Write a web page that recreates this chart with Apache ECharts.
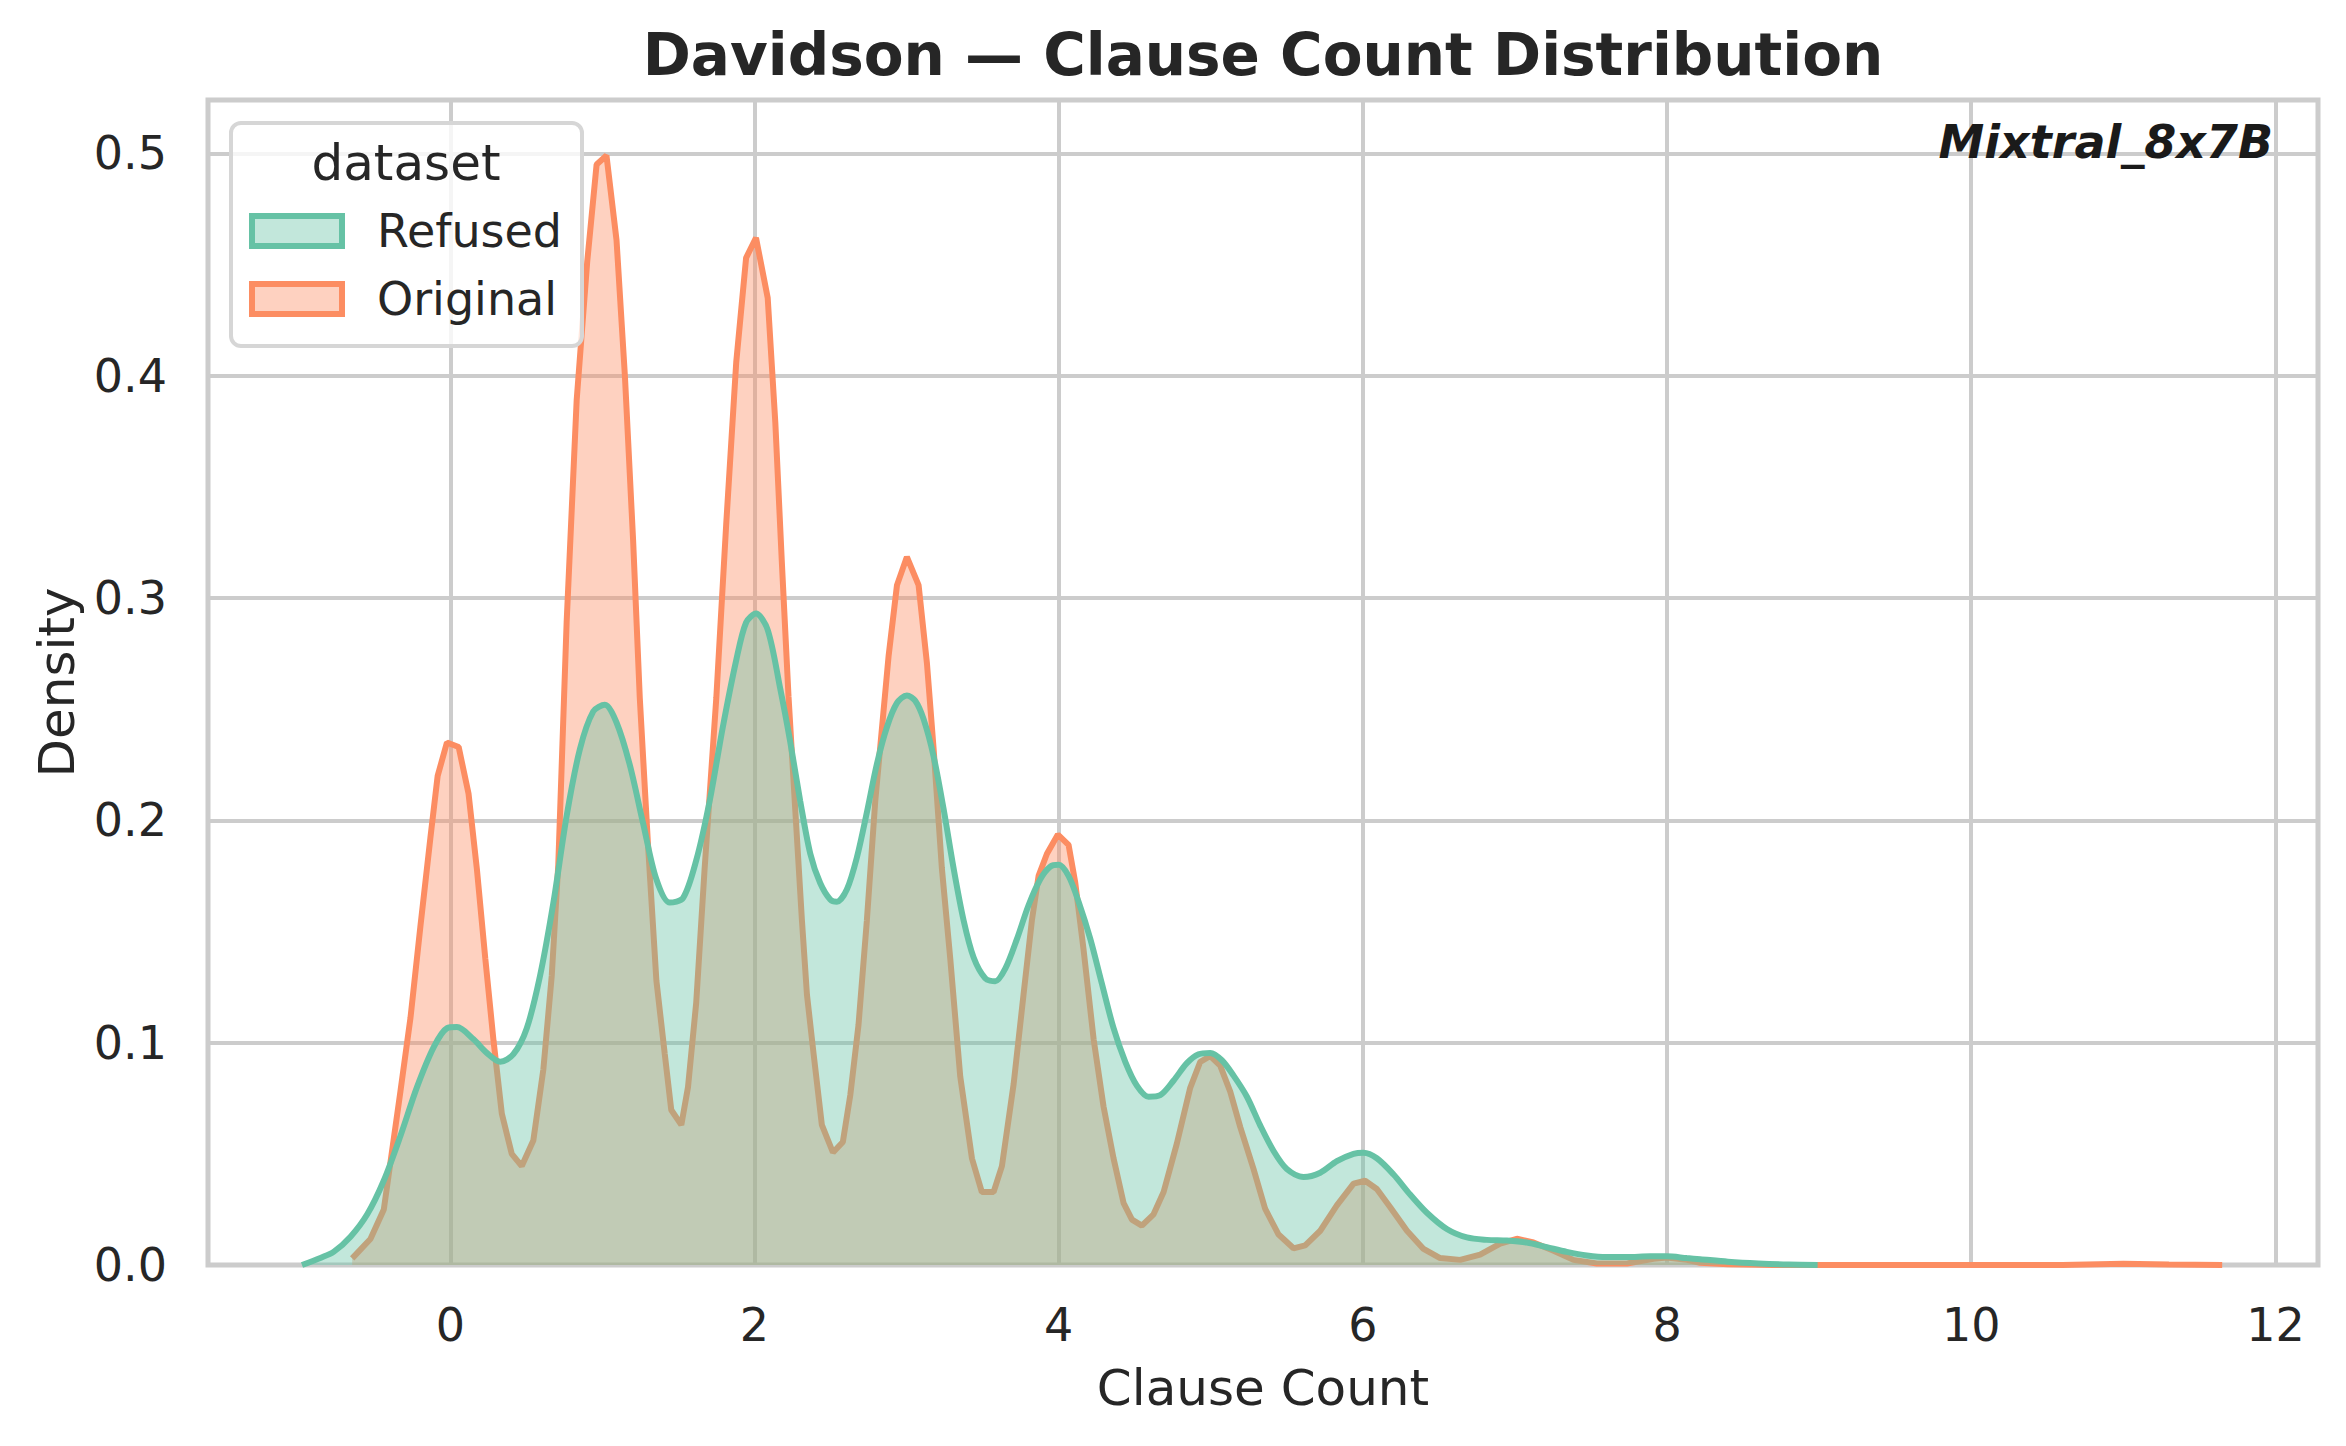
<!DOCTYPE html>
<html><head><meta charset="utf-8">
<script src="https://cdn.jsdelivr.net/npm/echarts@6/dist/echarts.min.js"></script>
<style>html,body{margin:0;padding:0;background:#fff}#c{width:2346px;height:1446px}</style>
</head><body><div id="c"></div>
<script>
const chartTitle = 'Davidson — Clause Count Distribution';
const modelLabel = 'Mixtral_8x7B';
const xAxisName = 'Clause Count';
const yAxisName = 'Density';
const legendTitle = 'dataset';
const seriesNames = ['Refused', 'Original'];
const xTicks = [0, 2, 4, 6, 8, 10, 12];
const yTicks = [0, 0.1, 0.2, 0.3, 0.4, 0.5];

const refusedDensity = [
  [-0.975,0.0],[-0.85,0.0033],[-0.765,0.006],[-0.656,0.0127],[-0.546,0.0228],[-0.437,0.038],
  [-0.328,0.058],[-0.219,0.080],[-0.109,0.098],[-0.022,0.1065],[0.044,0.107],[0.153,0.1015],
  [0.240,0.0954],[0.328,0.0914],[0.415,0.0948],[0.503,0.1065],[0.590,0.130],[0.678,0.163],
  [0.765,0.202],[0.852,0.232],[0.94,0.249],[1.016,0.252],[1.093,0.244],[1.18,0.225],
  [1.268,0.1986],[1.355,0.1735],[1.443,0.163],[1.53,0.165],[1.617,0.182],[1.705,0.2086],
  [1.792,0.242],[1.88,0.272],[1.945,0.289],[2.01,0.293],[2.087,0.2857],[2.17,0.259],
  [2.235,0.2354],[2.301,0.2086],[2.367,0.185],[2.432,0.1718],[2.498,0.1644],[2.542,0.1634],
  [2.608,0.169],[2.674,0.1835],[2.739,0.2036],[2.805,0.2254],[2.871,0.242],[2.937,0.2528],
  [3.002,0.2562],[3.057,0.2538],[3.112,0.2455],[3.178,0.2287],[3.243,0.2053],[3.309,0.1785],
  [3.375,0.155],[3.441,0.1383],[3.517,0.129],[3.583,0.1276],[3.649,0.1333],[3.726,0.1467],
  [3.802,0.1618],[3.879,0.1735],[3.945,0.1792],[4.0,0.18],[4.065,0.175],[4.131,0.1634],
  [4.208,0.1467],[4.284,0.1266],[4.361,0.1065],[4.438,0.0914],[4.514,0.0807],[4.591,0.0757],
  [4.668,0.0764],[4.756,0.083],[4.843,0.0908],[4.92,0.0948],[4.997,0.0954],[5.073,0.0921],
  [5.15,0.0852],[5.237,0.0758],[5.325,0.0628],[5.413,0.0513],[5.5,0.0432],[5.61,0.0396],
  [5.72,0.0415],[5.829,0.0467],[5.939,0.050],[6.004,0.0505],[6.092,0.048],[6.202,0.0407],
  [6.311,0.0317],[6.421,0.0235],[6.552,0.0162],[6.684,0.0124],[6.815,0.0113],[6.947,0.011],
  [7.078,0.0101],[7.21,0.008],[7.341,0.0059],[7.473,0.0043],[7.604,0.0036],[7.736,0.0036],
  [7.889,0.0039],[7.999,0.0039],[8.13,0.0031],[8.218,0.0026],[8.4,0.0015],[8.6,0.0007],
  [8.8,0.0002],[8.99,0.0]
];

const originalDensity = [
  [-0.645,0.003],[-0.525,0.0117],[-0.437,0.025],[-0.328,0.078],[-0.262,0.111],[-0.197,0.152],
  [-0.131,0.192],[-0.083,0.220],[-0.022,0.235],[0.055,0.233],[0.120,0.212],[0.175,0.178],
  [0.230,0.138],[0.284,0.101],[0.339,0.068],[0.404,0.050],[0.470,0.0445],[0.546,0.056],
  [0.612,0.088],[0.667,0.13],[0.71,0.18],[0.765,0.289],[0.831,0.389],[0.90,0.451],
  [0.962,0.495],[1.027,0.499],[1.093,0.461],[1.148,0.40],[1.202,0.326],[1.246,0.255],
  [1.30,0.189],[1.355,0.128],[1.41,0.095],[1.453,0.0697],[1.519,0.063],[1.563,0.080],
  [1.617,0.118],[1.672,0.178],[1.749,0.255],[1.814,0.333],[1.88,0.406],[1.945,0.453],
  [2.01,0.462],[2.087,0.435],[2.137,0.379],[2.18,0.316],[2.224,0.2555],[2.268,0.205],
  [2.312,0.155],[2.345,0.1216],[2.389,0.0948],[2.443,0.063],[2.516,0.0506],[2.581,0.0553],
  [2.63,0.0764],[2.684,0.108],[2.739,0.155],[2.794,0.2086],[2.882,0.274],[2.937,0.3058],
  [3.002,0.3185],[3.079,0.3058],[3.134,0.2706],[3.178,0.232],[3.232,0.1785],[3.287,0.138],
  [3.353,0.0847],[3.43,0.0479],[3.495,0.0328],[3.572,0.0328],[3.627,0.0445],[3.704,0.0814],
  [3.769,0.1216],[3.824,0.155],[3.868,0.175],[3.923,0.185],[3.995,0.1936],[4.065,0.189],
  [4.109,0.172],[4.164,0.1417],[4.23,0.1015],[4.295,0.0713],[4.361,0.0479],[4.427,0.0278],
  [4.482,0.0204],[4.547,0.0177],[4.624,0.0228],[4.69,0.0328],[4.777,0.0546],[4.865,0.0797],
  [4.931,0.0914],[4.997,0.094],[5.062,0.0897],[5.128,0.078],[5.194,0.062],[5.281,0.0432],
  [5.358,0.0252],[5.446,0.0137],[5.544,0.0075],[5.621,0.0088],[5.72,0.0154],[5.829,0.0268],
  [5.939,0.0366],[6.015,0.0379],[6.092,0.0342],[6.18,0.026],[6.29,0.0154],[6.399,0.0072],
  [6.508,0.0031],[6.64,0.0023],[6.771,0.0047],[6.903,0.0096],[7.012,0.0118],[7.122,0.0101],
  [7.254,0.0064],[7.385,0.0023],[7.539,0.0007],[7.736,0.0007],[7.911,0.0028],[7.999,0.0034],
  [8.13,0.0023],[8.218,0.001],[8.4,0.0003],[8.7,0.0],[10.6,0.0],[11.0,0.0006],[11.3,0.0002],
  [11.65,0.0]
];

const colors = { Refused: '#66c2a5', Original: '#fc8d62' };
const fills = { Refused: 'rgba(102,194,165,0.4)', Original: 'rgba(252,141,98,0.4)' };
const FONT = 'DejaVu Sans';
const TXT = '#262626';

const chart = echarts.init(document.getElementById('c'), null, { renderer: 'svg' });
chart.setOption({
  backgroundColor: '#ffffff',
  animation: false,
  grid: { left: 208, top: 100, width: 2110, height: 1165, show: true,
          borderColor: '#cccccc', borderWidth: 5, backgroundColor: 'transparent' },
  xAxis: {
    type: 'value', min: -1.593, max: 12.28,
    name: xAxisName, nameLocation: 'middle', nameGap: 98,
    nameTextStyle: { fontFamily: FONT, fontSize: 50, color: TXT },
    axisLine: { show: false }, axisTick: { show: false, customValues: xTicks },
    axisLabel: { customValues: xTicks, fontFamily: FONT, fontSize: 46, color: TXT, margin: 37 },
    splitLine: { show: true, lineStyle: { color: '#cccccc', width: 4 } }
  },
  yAxis: {
    type: 'value', min: 0, max: 0.524,
    name: yAxisName, nameLocation: 'middle', nameGap: 126,
    nameTextStyle: { fontFamily: FONT, fontSize: 50, color: TXT },
    axisLine: { show: false }, axisTick: { show: false, customValues: yTicks },
    axisLabel: { customValues: yTicks, fontFamily: FONT, fontSize: 46, color: TXT, margin: 41,
                 formatter: v => v.toFixed(1) },
    splitLine: { show: true, lineStyle: { color: '#cccccc', width: 4 } }
  },
  legend: {
    orient: 'vertical', left: 231, top: 123,
    padding: [85, 20, 24, 18],
    itemWidth: 90, itemHeight: 30, itemGap: 22,
    backgroundColor: 'rgba(255,255,255,0.8)', borderColor: '#d6d6d6', borderWidth: 4, borderRadius: 10,
    textStyle: { fontFamily: FONT, fontSize: 46, color: TXT, lineHeight: 30, padding: [0, 0, 0, 30] },
    data: seriesNames.map(n => ({ name: n, icon: 'rect',
      itemStyle: { color: fills[n], borderColor: colors[n], borderWidth: 6, opacity: 1 } }))
  },
  graphic: [
    { type: 'text', x: 1263, y: 55, z: 10,
      style: { text: chartTitle, fontFamily: FONT, fontWeight: 'bold', fontSize: 58, fill: TXT,
               align: 'center', verticalAlign: 'middle' } },
    { type: 'text', x: 406, y: 163, z: 100,
      style: { text: legendTitle, fontFamily: FONT, fontSize: 50, fill: TXT,
               align: 'center', verticalAlign: 'middle' } },
    { type: 'text', x: 2273, y: 142, z: 10,
      style: { text: modelLabel, fontFamily: FONT, fontWeight: 'bold', fontStyle: 'italic',
               fontSize: 46, fill: '#1a1a1a', align: 'right', verticalAlign: 'middle' } }
  ],
  series: [
    { name: 'Original', type: 'line', data: originalDensity, symbol: 'none', showSymbol: false,
      lineStyle: { color: colors.Original, width: 6 }, itemStyle: { color: colors.Original },
      areaStyle: { color: fills.Original, opacity: 1 }, z: 2 },
    { name: 'Refused', type: 'line', data: refusedDensity, symbol: 'none', showSymbol: false, smooth: 0.3,
      lineStyle: { color: colors.Refused, width: 6 }, itemStyle: { color: colors.Refused },
      areaStyle: { color: fills.Refused, opacity: 1 }, z: 3 }
  ]
});
</script></body></html>
